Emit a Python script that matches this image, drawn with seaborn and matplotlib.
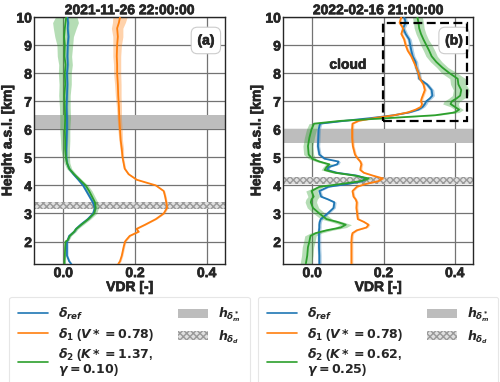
import numpy as np
import pandas as pd
import matplotlib
matplotlib.use("Agg")
import matplotlib.pyplot as plt
import matplotlib.patheffects as pe
import seaborn as sns
from matplotlib.patches import Patch, Rectangle
from matplotlib.lines import Line2D

# ---------------- data ----------------
titles = ["2021-11-26 22:00:00", "2022-02-16 21:00:00"]
panel_tags = ["(a)", "(b)"]

h_a = [1.2, 1.3, 1.5, 1.8, 2.0, 2.05, 2.2, 2.35, 2.45, 2.6, 2.8, 3.0, 3.2, 3.4, 3.6, 3.8,
       4.0, 4.2, 4.4, 4.6, 4.8, 5.0, 5.3, 5.6, 6.0, 6.4, 6.8, 7.2, 7.6, 8.0, 8.3, 8.6,
       9.0, 9.3, 9.6, 9.8, 10.0]
ref_a = [0.022, 0.016, 0.010, 0.010, 0.010, 0.012, 0.016, 0.030, 0.035, 0.048, 0.068, 0.083,
         0.088, 0.082, 0.073, 0.064, 0.055, 0.042, 0.028, 0.016, 0.010, 0.008, 0.008, 0.009,
         0.010, 0.010, 0.009, 0.010, 0.011, 0.010, 0.012, 0.011, 0.012, 0.014, 0.012, 0.013, 0.011]
d1_a = [0.153, 0.158, 0.163, 0.168, 0.172, 0.175, 0.185, 0.210, 0.204, 0.228, 0.258, 0.280,
        0.289, 0.287, 0.284, 0.280, 0.258, 0.205, 0.182, 0.171, 0.168, 0.165, 0.163, 0.160,
        0.158, 0.156, 0.155, 0.153, 0.152, 0.150, 0.150, 0.149, 0.150, 0.152, 0.150, 0.155, 0.158]
d2_a = [0.003, 0.003, 0.004, 0.005, 0.006, 0.012, 0.018, 0.030, 0.036, 0.050, 0.070, 0.086,
        0.090, 0.088, 0.080, 0.072, 0.062, 0.046, 0.030, 0.016, 0.010, 0.007, 0.005, 0.005,
        0.004, 0.005, 0.004, 0.003, 0.005, 0.004, 0.006, 0.003, 0.004, 0.002, 0.004, 0.006, 0.008]
ref_err_a = [0.003] * 9 + [0.004] * 9 + [0.003] * 19
d1_err_a = [0.003] * 22 + [0.005, 0.005, 0.006, 0.006, 0.007, 0.008, 0.009, 0.010, 0.010,
                          0.011, 0.012, 0.014, 0.016, 0.018, 0.020]
d2_err_a = [0.003, 0.003, 0.003, 0.003, 0.003, 0.004, 0.004, 0.005, 0.005, 0.006, 0.006,
            0.007, 0.008, 0.008, 0.008, 0.008, 0.007, 0.006, 0.006, 0.007, 0.008, 0.010,
            0.012, 0.013, 0.014, 0.015, 0.015, 0.016, 0.017, 0.018, 0.019, 0.020, 0.022,
            0.026, 0.032, 0.036, 0.030]

h_b = [1.2, 1.5, 1.8, 2.0, 2.2, 2.3, 2.4, 2.5, 2.6, 2.7, 2.8, 3.0, 3.2, 3.4, 3.5, 3.6, 3.8,
       3.95, 4.05, 4.15, 4.25, 4.35, 4.45, 4.55, 4.65, 4.75, 4.85, 4.95, 5.1, 5.4, 5.7, 6.0,
       6.2, 6.3, 6.4, 6.5, 6.6, 6.7, 6.8, 6.9, 7.0, 7.1, 7.2, 7.4, 7.6, 7.8, 8.0, 8.2, 8.4,
       8.6, 8.8, 9.0, 9.2, 9.4, 9.6, 9.8, 10.0]
ref_b = [0.020, 0.020, 0.019, 0.019, 0.019, 0.019, 0.019, 0.020, 0.020, 0.021, 0.024, 0.043,
         0.060, 0.062, 0.045, 0.025, 0.020, 0.045, 0.100, 0.140, 0.150, 0.125, 0.070, 0.042,
         0.045, 0.070, 0.074, 0.035, 0.020, 0.016, 0.017, 0.018, 0.022, 0.090, 0.165, 0.228,
         0.272, 0.298, 0.310, 0.316, 0.320, 0.330, 0.337, 0.335, 0.322, 0.300, 0.298, 0.292,
         0.290, 0.282, 0.278, 0.275, 0.272, 0.262, 0.255, 0.262, 0.258]
d1_b = [0.110, 0.110, 0.110, 0.110, 0.111, 0.113, 0.125, 0.152, 0.158, 0.145, 0.128, 0.126,
        0.124, 0.125, 0.122, 0.116, 0.113, 0.125, 0.150, 0.185, 0.198, 0.170, 0.145, 0.135,
        0.136, 0.138, 0.135, 0.128, 0.120, 0.114, 0.112, 0.112, 0.113, 0.130, 0.175, 0.230,
        0.268, 0.290, 0.305, 0.308, 0.305, 0.307, 0.310, 0.316, 0.312, 0.302, 0.298, 0.292,
        0.285, 0.278, 0.268, 0.262, 0.258, 0.250, 0.255, 0.245, 0.250]
d2_b = [-0.018, -0.014, -0.012, -0.008, -0.005, 0.010, 0.040, 0.080, 0.094, 0.070, 0.040,
        0.020, 0.002, -0.004, -0.002, 0.004, -0.002, 0.020, 0.080, 0.135, 0.158, 0.120, 0.065,
        0.035, 0.040, 0.048, 0.020, 0.000, -0.010, -0.012, -0.008, -0.002, 0.005, 0.080, 0.215,
        0.345, 0.400, 0.412, 0.400, 0.388, 0.392, 0.405, 0.415, 0.418, 0.410, 0.408, 0.385,
        0.365, 0.348, 0.335, 0.328, 0.320, 0.312, 0.305, 0.300, 0.298, 0.295]
ref_err_b = [0.005] * 33 + [0.006] * 12 + [0.006] * 12
d1_err_b = [0.004] * 57
d2_err_b = [0.016] * 17 + [0.010] * 11 + [0.014] * 5 + [0.012] * 6 + [0.022] * 8 + \
           [0.016] * 5 + [0.014] * 5

# height bands (km): grey = h_delta_m*, hatched = h_delta_d
band_m = [(6.0, 6.5), (5.5, 6.0)]
band_d = [(3.15, 3.4), (4.05, 4.3)]
# cloud box (panel b): x0, x1, y0, y1
cloud_box = (0.198, 0.434, 6.3, 9.8)

legend_labels = [
    [r"$\delta_{ref}$", r"$\delta_1$ ($V*=0.78$)", "$\\delta_2$ ($K*=1.37$,\n$\\gamma=0.10$)"],
    [r"$\delta_{ref}$", r"$\delta_1$ ($V*=0.78$)", "$\\delta_2$ ($K*=0.62$,\n$\\gamma=0.25$)"],
]
band_labels = [r"$h_{\delta_m^*}$", r"$h_{\delta_d}$"]

# ---------------- styling ----------------
sns.set_theme(style="whitegrid", rc={
    "grid.color": "0.45", "grid.linewidth": 0.9,
    "axes.edgecolor": "0.15", "axes.linewidth": 1.0,
    "hatch.color": "0.55",
})
FONT = "Liberation Sans"
plt.rcParams["font.family"] = [FONT, "DejaVu Sans"]
plt.rcParams["font.weight"] = "bold"
plt.rcParams["axes.labelweight"] = "bold"
plt.rcParams["axes.titleweight"] = "bold"
plt.rcParams["mathtext.fontset"] = "custom"
plt.rcParams["mathtext.rm"] = "DejaVu Sans:bold"
plt.rcParams["mathtext.it"] = "DejaVu Sans:bold:italic"
plt.rcParams["mathtext.bf"] = "DejaVu Sans:bold"

FS = 10
heavy = [pe.withStroke(linewidth=0.5, foreground="0.15")]
c_ref, c_d1, c_d2 = "#1f77b4", "#ff7f0e", "#2ca02c"
band_grey = "#bdbdbd"

fig = plt.figure(figsize=(5.0, 3.82), dpi=100)
W, H = 500, 382
ax_pos = [(34, 17, 191, 247), (283, 17, 190, 247)]
axes = [fig.add_axes([x / W, 1 - (y + h) / H, w / W, h / H]) for x, y, w, h in ax_pos]

panels = [
    (h_a, ref_a, d1_a, d2_a, ref_err_a, d1_err_a, d2_err_a),
    (h_b, ref_b, d1_b, d2_b, ref_err_b, d1_err_b, d2_err_b),
]

for i, ax in enumerate(axes):
    hh, r, d1, d2, er, e1, e2 = panels[i]
    hh = np.array(hh)
    df = pd.DataFrame({"h": hh, "ref": r, "d1": d1, "d2": d2})
    for vals, err, col in [(d2, e2, c_d2), (d1, e1, c_d1), (r, er, c_ref)]:
        v = np.array(vals); e = np.array(err)
        ax.fill_betweenx(hh, v - e, v + e, color=col, alpha=0.35, lw=0, zorder=2)
    sns.lineplot(data=df, x="ref", y="h", orient="y", sort=False, color=c_ref, lw=1.3, ax=ax, zorder=3)
    sns.lineplot(data=df, x="d1", y="h", orient="y", sort=False, color=c_d1, lw=1.3, ax=ax, zorder=3)
    sns.lineplot(data=df, x="d2", y="h", orient="y", sort=False, color=c_d2, lw=1.3, ax=ax, zorder=4)

    ax.axhspan(*band_m[i], color=band_grey, lw=0, zorder=1)
    ax.axhspan(*band_d[i], facecolor="0.88", edgecolor="0.6", hatch="xxxxx", lw=0, zorder=1)

    ax.set_xlim(-0.082, 0.451)
    ax.set_ylim(1.2, 10.0)
    ax.set_xticks([0.0, 0.2, 0.4])
    ax.set_yticks(range(2, 11))
    ax.tick_params(labelsize=FS, pad=1.5, length=0)
    for lab in ax.get_xticklabels() + ax.get_yticklabels():
        lab.set_fontweight("bold")
        lab.set_path_effects(heavy)
    xl = ax.set_xlabel("VDR [-]", fontsize=FS, labelpad=0)
    yl = ax.set_ylabel("Height a.s.l. [km]", fontsize=FS, labelpad=1.5)
    tt = ax.set_title(titles[i], fontsize=FS, pad=2)
    for t in (xl, yl, tt):
        t.set_path_effects(heavy)
    ax.grid(True, zorder=0)
    ax.set_axisbelow(True)

    tg = ax.text(0.9, 0.905, panel_tags[i], transform=ax.transAxes, fontsize=FS,
                 ha="center", va="center", zorder=6,
                 bbox=dict(boxstyle="round,pad=0.45", fc="white", ec="0.8", lw=0.8))
    tg.set_path_effects(heavy)

    handles = [Line2D([], [], color=c, lw=1.2) for c in (c_ref, c_d1, c_d2)] + [
        Patch(facecolor=band_grey, lw=0),
        Patch(facecolor="0.88", edgecolor="0.6", hatch="xxxxx", lw=0),
    ]
    leg = ax.legend(handles, legend_labels[i] + band_labels, loc="upper center",
                    bbox_to_anchor=(0.5, -0.108), ncol=2, fontsize=9, frameon=True,
                    handlelength=2.4, columnspacing=1.9, labelspacing=0.3,
                    borderpad=0.7, fancybox=True, edgecolor="0.88")
    leg.get_frame().set_linewidth(0.8)
    for t in leg.get_texts():
        t.set_linespacing(0.85)

ax = axes[1]
x0, x1, y0, y1 = cloud_box
ax.add_patch(Rectangle((x0, y0), x1 - x0, y1 - y0, fill=False, ec="black", lw=1.6,
                       ls=(0, (4, 2)), zorder=7))
cl = ax.text(0.1, 8.3, "cloud", fontsize=FS, ha="center", va="center", zorder=6)
cl.set_path_effects(heavy)

fig.savefig("out.png", dpi=100)
